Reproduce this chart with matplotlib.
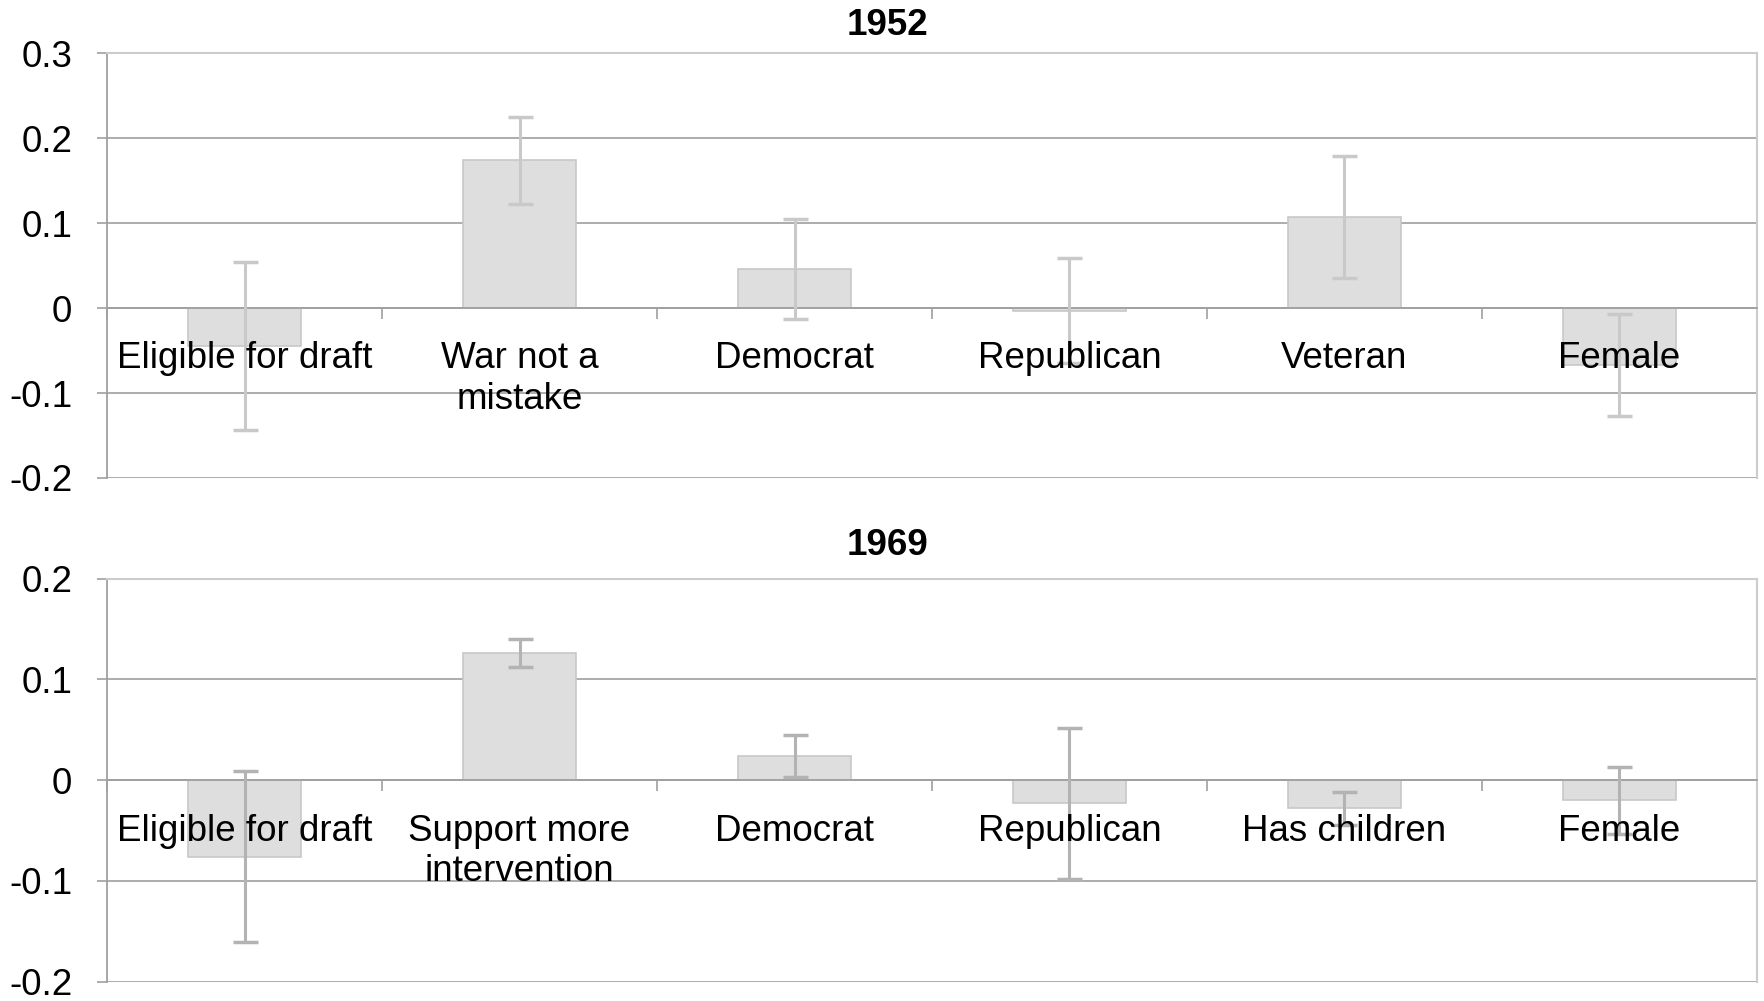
import matplotlib
matplotlib.use("Agg")
import matplotlib.pyplot as plt
from matplotlib.ticker import MultipleLocator, FixedLocator

plt.rcParams['font.family'] = ['Liberation Sans', 'DejaVu Sans']

# 1952 panel
labels_1952 = ['Eligible for draft', 'War not a\nmistake', 'Democrat', 'Republican', 'Veteran', 'Female']
values_1952 = [-0.045, 0.174, 0.046, -0.003, 0.107, -0.067]
err_1952 = [0.099, 0.051, 0.059, 0.062, 0.072, 0.060]

# 1969 panel
labels_1969 = ['Eligible for draft', 'Support more\nintervention', 'Democrat', 'Republican', 'Has children', 'Female']
values_1969 = [-0.076, 0.126, 0.024, -0.023, -0.028, -0.020]
err_1969 = [0.085, 0.014, 0.021, 0.075, 0.016, 0.033]

fig = plt.figure(figsize=(17.64, 10.01), dpi=100)
ax1 = fig.add_axes([0.0607, 0.5225, 0.9353, 0.4242])
ax2 = fig.add_axes([0.0607, 0.0193, 0.9353, 0.4026])

panels = [
    (ax1, '1952', labels_1952, values_1952, err_1952, (-0.2, 0.3), '#c9c9c9', 13),
    (ax2, '1969', labels_1969, values_1969, err_1969, (-0.2, 0.2), '#b3b3b3', 17),
]

FS = 26.5

for ax, title, labels, vals, errs, ylim, ecol, tpad in panels:
    x = list(range(len(labels)))
    ax.set_axisbelow(True)
    ax.bar(x, vals, width=0.41, color='#dedede', edgecolor='#c8c8c8', linewidth=1.2, zorder=2)
    ax.errorbar(x, vals, yerr=errs, fmt='none', ecolor=ecol, elinewidth=2.2,
                capsize=9, capthick=2.5, zorder=3)
    for i, lab in enumerate(labels):
        ax.annotate(lab, xy=(i, 0), xytext=(0, -24), textcoords='offset points',
                    ha='center', va='top', fontsize=FS, linespacing=1.2, zorder=5)

    ax.set_xlim(-0.5, len(labels) - 0.5)
    ax.set_ylim(*ylim)
    ax.yaxis.set_major_locator(MultipleLocator(0.1))
    ax.set_yticklabels([('%g' % round(t, 1)) for t in ax.get_yticks()])
    ax.tick_params(axis='y', labelsize=FS, length=7, width=1.2, color='#a0a0a0', pad=18)

    ax.spines['bottom'].set_position(('data', 0))
    ax.spines['bottom'].set_color('#a0a0a0')
    ax.spines['bottom'].set_linewidth(1.3)
    ax.spines['left'].set_color('#a0a0a0')
    ax.spines['left'].set_linewidth(1.3)
    ax.spines['top'].set_color('#cccccc')
    ax.spines['top'].set_linewidth(1.5)
    ax.spines['right'].set_color('#cccccc')
    ax.spines['right'].set_linewidth(1.5)

    ax.xaxis.set_major_locator(FixedLocator([i + 0.5 for i in range(-1, len(labels))]))
    ax.set_xticklabels([])
    ax.tick_params(axis='x', direction='out', length=8, width=1.2, color='#a0a0a0')

    ax.grid(axis='y', color='#a6a6a6', linewidth=1.3)
    gl = ax.yaxis.get_gridlines()
    gl[0].set_color('#cccccc')
    gl[0].set_linewidth(1.5)
    gl[-1].set_color('#cccccc')
    gl[-1].set_linewidth(1.5)

    # title is centred on the whole chart, not the plot area
    ax.set_title(title, fontsize=FS, fontweight='bold', pad=tpad, x=0.473)

fig.savefig('out.png', dpi=100)
